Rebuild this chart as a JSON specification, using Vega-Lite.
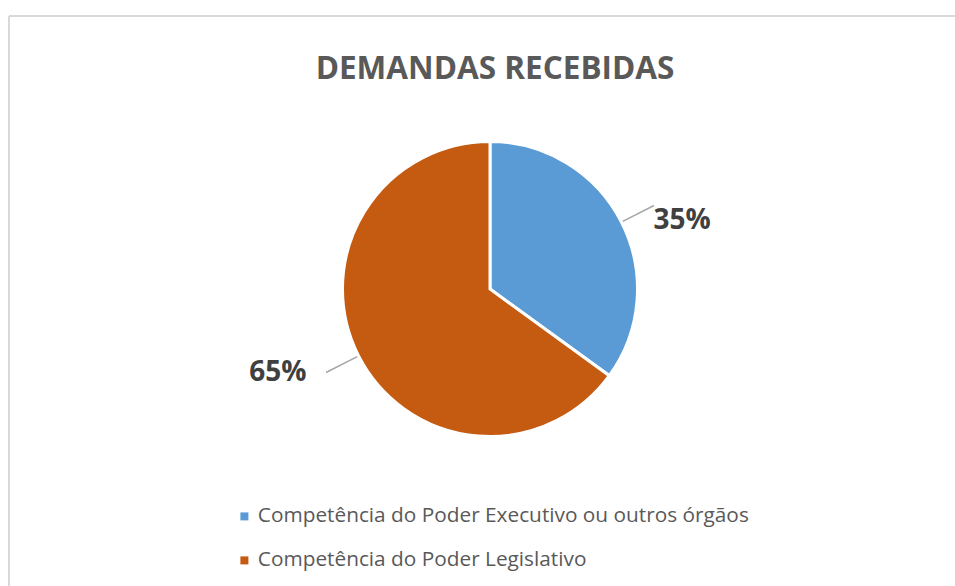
{
  "$schema": "https://vega.github.io/schema/vega-lite/v6.json",
  "width": 946,
  "height": 570,
  "autosize": {"type": "none"},
  "padding": {"left": 9, "top": 16, "right": 0, "bottom": 0},
  "background": "white",
  "view": {"stroke": "#d9d9d9", "strokeWidth": 2, "strokeDash": [946, 1516, 570, 0]},
  "title": {
    "text": "DEMANDAS RECEBIDAS",
    "font": "Open Sans",
    "fontSize": 31.5,
    "fontWeight": "bold",
    "color": "#595959",
    "anchor": "middle",
    "baseline": "alphabetic",
    "offset": -94,
    "dx": 13
  },
  "data": {
    "values": [
      {"categoria": "Competência do Poder Executivo ou outros órgãos", "valor": 0.35},
      {"categoria": "Competência do Poder Legislativo", "valor": 0.65}
    ]
  },
  "layer": [
    {
      "mark": {"type": "arc", "radius": 147.5, "stroke": "white", "strokeWidth": 3, "xOffset": 8, "yOffset": -12},
      "encoding": {
        "theta": {"field": "valor", "type": "quantitative", "stack": true},
        "color": {
          "field": "categoria",
          "type": "nominal",
          "scale": {"range": ["#5b9bd5", "#c55a11"]},
          "legend": {
            "title": null,
            "orient": "none",
            "legendX": 225,
            "legendY": 490,
            "direction": "vertical",
            "symbolType": "square",
            "symbolSize": 64,
            "symbolStrokeWidth": 0,
            "labelFont": "Open Sans",
            "labelFontSize": 20.8,
            "labelColor": "#595959",
            "labelOffset": 3,
            "rowPadding": 22,
            "labelLimit": 800
          }
        }
      }
    },
    {
      "transform": [
        {"window": [{"op": "sum", "field": "valor", "as": "acum"}], "sort": [{"field": "categoria"}]},
        {"calculate": "datum.acum - datum.valor / 2", "as": "meio"}
      ],
      "mark": {"type": "arc", "radius": 149, "radius2": 184, "stroke": "#a6a6a6", "strokeWidth": 1.5, "fill": null, "xOffset": 8, "yOffset": -12},
      "encoding": {
        "theta": {"field": "meio", "type": "quantitative", "stack": null},
        "theta2": {"field": "meio"}
      }
    },
    {
      "mark": {"type": "text", "radius": 216, "thetaOffset": 0.11, "font": "Open Sans", "fontSize": 28, "fontWeight": "bold", "fill": "#404040", "xOffset": -2, "yOffset": -4, "baseline": "middle", "align": "center"},
      "encoding": {
        "theta": {"field": "valor", "type": "quantitative", "stack": true},
        "detail": {"field": "categoria"},
        "text": {"field": "valor", "type": "quantitative", "format": ".0%"}
      }
    }
  ]
}
